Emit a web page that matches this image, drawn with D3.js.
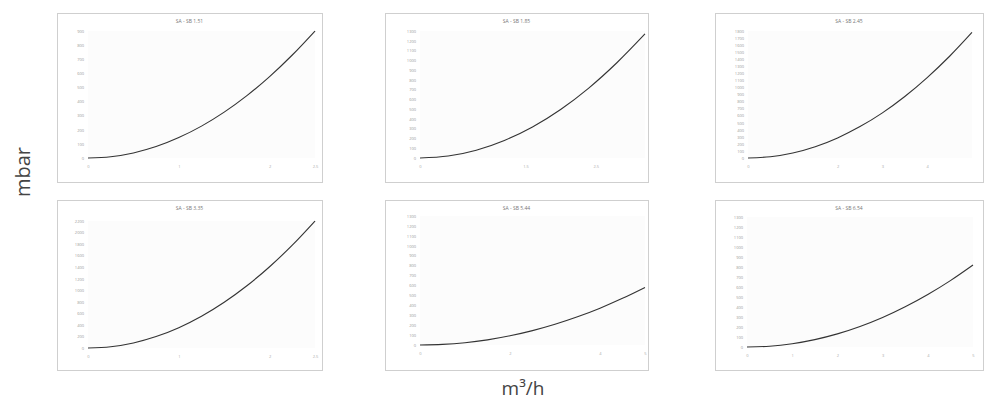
<!DOCTYPE html>
<html>
<head>
<meta charset="utf-8">
<script src="https://cdn.jsdelivr.net/npm/d3@7"></script>
<style>
  html, body { margin: 0; padding: 0; background: #fff; }
  svg { display: block; }
</style>
</head>
<body>
<svg id="chart" width="985" height="402"></svg>
<script>
// ---- data ----
const titles = ["SA - SB 1.51", "SA - SB 1.85", "SA - SB 2.45", "SA - SB 3.35", "SA - SB 5.44", "SA - SB 6.54"];

const flowP1 = [0, 0.25, 0.5, 0.75, 1.0, 1.25, 1.5, 1.75, 2.0, 2.25, 2.5];
const presP1 = [0, 9, 36, 81, 145, 226, 325, 442, 577, 730, 900];

const flowP2 = [0, 0.4, 0.8, 1.2, 1.6, 2.0, 2.4, 2.8, 3.2];
const presP2 = [0, 20, 80, 180, 318, 497, 716, 975, 1270];

const flowP3 = [0, 0.5, 1.0, 1.5, 2.0, 2.5, 3.0, 3.5, 4.0, 4.5, 5.0];
const presP3 = [0, 18, 71, 160, 285, 445, 640, 872, 1140, 1442, 1780];

const flowP4 = [0, 0.25, 0.5, 0.75, 1.0, 1.25, 1.5, 1.75, 2.0, 2.25, 2.5];
const presP4 = [0, 22, 88, 198, 352, 550, 792, 1078, 1408, 1782, 2200];

const flowP5 = [0, 0.5, 1.0, 1.5, 2.0, 2.5, 3.0, 3.5, 4.0, 4.5, 5.0];
const presP5 = [0, 6, 23, 52, 93, 145, 209, 284, 371, 470, 580];

const flowP6 = [0, 0.5, 1.0, 1.5, 2.0, 2.5, 3.0, 3.5, 4.0, 4.5, 5.0];
const presP6 = [0, 8, 33, 74, 131, 205, 295, 402, 525, 664, 820];

const yTicksP1 = d3.range(0, 901, 100);
const yTicksP2 = d3.range(0, 1301, 100);
const yTicksP3 = d3.range(0, 1801, 100);
const yTicksP4 = d3.range(0, 2201, 200);
const yTicksP5 = d3.range(0, 1301, 100);
const yTicksP6 = d3.range(0, 1301, 100);

const xTicksP1 = [0, 1, 2, 2.5];
const xTicksP2 = [0, 1.5, 2.5];
const xTicksP3 = [0, 2, 3, 4];
const xTicksP4 = [0, 1, 2, 2.5];
const xTicksP5 = [0, 2, 4, 5];
const xTicksP6 = [0, 1, 2, 3, 4, 5];

const yAxisLabel = "mbar";
const xAxisLabel = "m³/h";

// ---- layout ----
const panels = [
  {box:[57,13,322,182],  plot:[88,31,315,158],  flow:flowP1, pres:presP1, xd:[0,2.5], yd:[0,900],  yt:yTicksP1, xt:xTicksP1},
  {box:[385,13,648,182], plot:[420,31,645,158], flow:flowP2, pres:presP2, xd:[0,3.2], yd:[0,1300], yt:yTicksP2, xt:xTicksP2},
  {box:[715,13,983,182], plot:[748,31,972,158], flow:flowP3, pres:presP3, xd:[0,5],   yd:[0,1800], yt:yTicksP3, xt:xTicksP3},
  {box:[57,200,322,370], plot:[88,221,315,348], flow:flowP4, pres:presP4, xd:[0,2.5], yd:[0,2200], yt:yTicksP4, xt:xTicksP4},
  {box:[385,200,648,370],plot:[420,216,645,345],flow:flowP5, pres:presP5, xd:[0,5],   yd:[0,1300], yt:yTicksP5, xt:xTicksP5},
  {box:[715,200,983,370],plot:[747,217,973,347],flow:flowP6, pres:presP6, xd:[0,5],   yd:[0,1300], yt:yTicksP6, xt:xTicksP6}
];

const svg = d3.select("#chart");
const font = "'Open Sans', 'DejaVu Sans', sans-serif";

panels.forEach((p, i) => {
  const [bx0, by0, bx1, by1] = p.box;
  const [px0, py0, px1, py1] = p.plot;
  const g = svg.append("g");

  g.append("rect")
    .attr("x", bx0 + 0.5).attr("y", by0 + 0.5)
    .attr("width", bx1 - bx0).attr("height", by1 - by0)
    .attr("fill", "#fff").attr("stroke", "#cfcfcf").attr("stroke-width", 1);

  g.append("rect")
    .attr("x", px0).attr("y", py0)
    .attr("width", px1 - px0).attr("height", py1 - py0)
    .attr("fill", "#fcfcfc");

  const x = d3.scaleLinear().domain(p.xd).range([px0, px1]);
  const y = d3.scaleLinear().domain(p.yd).range([py1, py0]);

  // y axis
  const ya = g.append("g")
    .attr("transform", `translate(${px0 - 2},0)`)
    .call(d3.axisLeft(y).tickValues(p.yt).tickSize(0).tickPadding(2).tickFormat(d3.format("d")));
  ya.select(".domain").remove();
  ya.selectAll("text").attr("font-family", font).attr("font-size", 4).attr("fill", "#999");

  // x axis
  const xa = g.append("g")
    .attr("transform", `translate(0,${py1 + 5})`)
    .call(d3.axisBottom(x).tickValues(p.xt).tickSize(0).tickPadding(2).tickFormat(d3.format("~g")));
  xa.select(".domain").remove();
  xa.selectAll("text").attr("font-family", font).attr("font-size", 4).attr("fill", "#aaa");

  // title
  g.append("text")
    .attr("x", (bx0 + bx1) / 2).attr("y", by0 + 10)
    .attr("text-anchor", "middle")
    .attr("font-family", font).attr("font-size", 5).attr("fill", "#777")
    .text(titles[i]);

  // curve
  const line = d3.line().x((d, k) => x(p.flow[k])).y(d => y(d)).curve(d3.curveMonotoneX);
  g.append("path")
    .datum(p.pres)
    .attr("d", line)
    .attr("fill", "none")
    .attr("stroke", "#333")
    .attr("stroke-width", 1.1);
});

// axis titles
svg.append("text")
  .attr("transform", "translate(30,172) rotate(-90)")
  .attr("text-anchor", "middle")
  .attr("font-family", font).attr("font-size", 20).attr("fill", "#444")
  .text(yAxisLabel);

svg.append("text")
  .attr("x", 523).attr("y", 395)
  .attr("text-anchor", "middle")
  .attr("font-family", font).attr("font-size", 19).attr("fill", "#444")
  .text(xAxisLabel);
</script>
</body>
</html>
